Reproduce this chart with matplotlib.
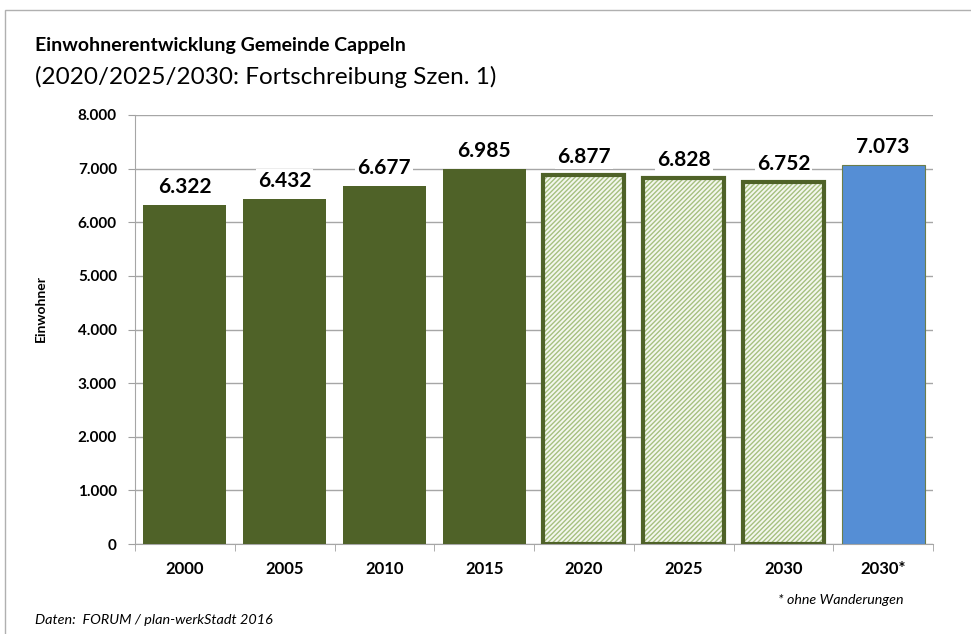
import matplotlib.pyplot as plt
from matplotlib.patches import Rectangle
import numpy as np

plt.rcParams['font.family'] = ['Lato', 'DejaVu Sans']

years = ['2000', '2005', '2010', '2015', '2020', '2025', '2030', '2030*']
einwohner = [6322, 6432, 6677, 6985, 6877, 6828, 6752, 7073]
# 0 = Bestand, 1 = Fortschreibung, 2 = ohne Wanderungen
bar_kind = [0, 0, 0, 0, 1, 1, 1, 2]
y_ticks = [0, 1000, 2000, 3000, 4000, 5000, 6000, 7000, 8000]

dark_green = '#4f6228'
blue = '#558ed5'


def de_fmt(v):
    return f'{v:,}'.replace(',', '.')


fig = plt.figure(figsize=(9.71, 6.34), dpi=100)
ax = fig.add_axes([135 / 971, 1 - 544 / 634, 798 / 971, 429 / 634])

# outer frame
fig.patches.append(Rectangle((5 / 971, -0.1), 1.2, (1 - 10 / 634) + 0.1,
                             transform=fig.transFigure, fill=False,
                             edgecolor='#b0b0b0', linewidth=1.0))

x = np.arange(len(years))
w = 0.83
for i, (v, k) in enumerate(zip(einwohner, bar_kind)):
    if k == 0:
        ax.bar(x[i], v, w, color=dark_green, zorder=3)
    elif k == 1:
        ax.bar(x[i], v, w - 0.02, color='#f4f7ee', edgecolor='#a6c080',
               hatch='///////', linewidth=0, zorder=3)
        ax.bar(x[i], v, w - 0.02, fill=False, edgecolor=dark_green,
               linewidth=3, zorder=4)
    else:
        ax.bar(x[i], v, w, color=blue, edgecolor='#6b7d4a', linewidth=0.8, zorder=3)
    ax.annotate(de_fmt(v), (x[i], v), xytext=(0, 13), textcoords='offset points',
                ha='center', va='center', fontsize=15, fontweight='bold',
                bbox=dict(facecolor='white', edgecolor='none', pad=1.5), zorder=5)

ax.set_xlim(-0.5, len(years) - 0.5)
ax.set_ylim(0, 8000)
ax.set_yticks(y_ticks)
ax.set_yticklabels([de_fmt(t) for t in y_ticks], fontsize=11, fontweight='bold')
ax.set_xticks(x)
ax.set_xticklabels(years, fontsize=12, fontweight='bold')
ax.set_xticks(np.arange(-0.5, len(years), 1), minor=True)
ax.tick_params(axis='x', which='major', length=0, pad=12)
ax.tick_params(axis='x', which='minor', length=5, color='#a0a0a0')
ax.tick_params(axis='y', length=5, color='#a0a0a0', pad=8)
ax.grid(axis='y', color='#a6a6a6', linewidth=1, zorder=0)
for s in ['top', 'right']:
    ax.spines[s].set_visible(False)
ax.spines['left'].set_color('#a6a6a6')
ax.spines['bottom'].set_color('#a6a6a6')
ax.set_ylabel('Einwohner', fontsize=10, fontweight='bold')
ax.yaxis.set_label_coords((47 - 135) / 798, (544 - 308) / 429)

fig.text(35 / 971, 1 - 45 / 634, 'Einwohnerentwicklung Gemeinde Cappeln',
         fontsize=14, fontweight='bold', va='center', ha='left')
fig.text(35 / 971, 1 - 77 / 634, '(2020/2025/2030: Fortschreibung Szen. 1)',
         fontsize=17.5, va='center', ha='left')
fig.text(903 / 971, 1 - 600 / 634, '* ohne Wanderungen', fontsize=10.3,
         style='italic', va='center', ha='right')
fig.text(35 / 971, 1 - 620 / 634, 'Daten:  FORUM / plan-werkStadt 2016', fontsize=10.4,
         style='italic', va='center', ha='left')

fig.savefig('out.png', dpi=100)
